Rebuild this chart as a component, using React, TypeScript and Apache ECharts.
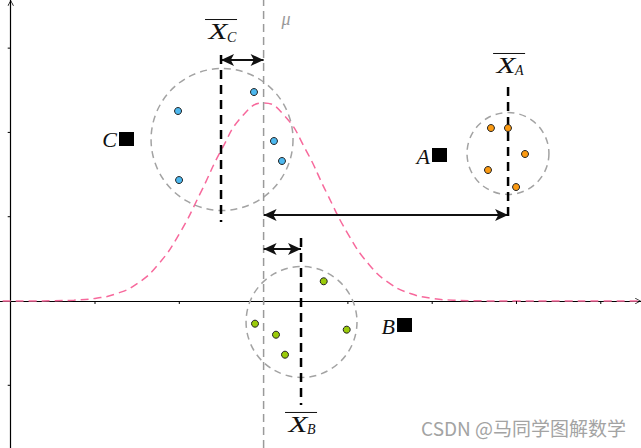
import React, { useEffect, useRef } from 'react';
import * as echarts from 'echarts';

// axis extents (data units)
const xRange = [-0.127, 7.477];
const yRange = [-1.744, 3.571];
const xTicks = [1, 2, 3, 4, 5, 6, 7];
const yTicks = [-1, 1, 2, 3];

// cluster sample points
const pointsA = [[5.697, 2.052], [5.899, 2.052], [6.101, 1.744], [5.662, 1.554], [5.995, 1.352]];
const pointsB = [[2.898, -0.269], [3.147, -0.4], [3.254, -0.637], [3.713, 0.234], [3.986, -0.34]];
const pointsC = [[1.985, 2.254], [2.886, 2.479], [3.123, 1.898], [3.218, 1.661], [1.997, 1.435]];

// cluster circles: cx, cy, r
const clusterCircles = [[2.507, 1.916, 0.842], [5.899, 1.75, 0.486], [3.45, -0.249, 0.658]];

// population mean and sample means
const mu = 3;
const muLine = [[mu, -1.744], [mu, 3.571]];
const meanLineC = [[2.495, 2.918], [2.495, 0.937]];
const meanLineA = [[5.9, 2.54], [5.9, 0.96]];
const meanLineB = [[3.444, 0.747], [3.444, -1.234]];

// double arrows: x1, x2, y
const arrows = [[2.495, 3.0, 2.859], [3.0, 5.9, 1.02], [3.0, 3.444, 0.617]];

// normal curve
const curveX = [-0.25, 0, 0.25, 0.5, 0.75, 1, 1.25, 1.5, 1.75, 2, 2.25, 2.5, 2.75, 3, 3.25, 3.5, 3.75, 4, 4.25, 4.5, 4.75, 5, 5.25, 5.5, 6, 6.5, 7, 7.6];
const curveY = [0, 0, 0, 0.003, 0.01, 0.031, 0.086, 0.206, 0.434, 0.797, 1.279, 1.794, 2.196, 2.35, 2.196, 1.794, 1.279, 0.797, 0.434, 0.206, 0.086, 0.031, 0.01, 0.003, 0, 0, 0, 0];

// labels
const meanLabels = [[2.507, 3.203, 'C'], [5.924, 2.8, 'A'], [3.456, -1.459, 'B']];
const groupLabels = [[1.273, 1.922, 'C'], [4.986, 1.732, 'A'], [4.571, -0.285, 'B']];
const muLabel = [[3.266, 3.345, 'μ']];

const SERIF = '"Liberation Serif", "DejaVu Serif", serif';

export default function App() {
  const ref = useRef<HTMLDivElement>(null);
  useEffect(() => {
    document.body.style.margin = '0';
    const chart = echarts.init(ref.current!, null, { renderer: 'svg' });
    const arrowPath = 'path://M0,0 L5,9 L4,9.8 L0,2 L-4,9.8 L-5,9 Z';
    const axisCommon = {
      type: 'value' as const,
      axisLine: {
        onZero: true,
        lineStyle: { color: '#000', width: 1.2 },
        symbol: ['none', arrowPath],
        symbolSize: [8, 6],
        symbolOffset: [0, -3],
      },
      axisTick: { show: false },
      axisLabel: { show: false },
      splitLine: { show: false },
    };
    const dashedLine = (data: number[][], color: string, width: number, dash: number[], z: number) => ({
      type: 'line',
      data,
      symbol: 'none',
      silent: true,
      z,
      lineStyle: { color, width, type: dash },
    });
    const scatter = (data: number[][], color: string) => ({
      type: 'scatter',
      data,
      symbolSize: 7,
      z: 10,
      itemStyle: { color, borderColor: '#222', borderWidth: 1, opacity: 1 },
    });
    chart.setOption({
      animation: false,
      grid: { left: 0, right: 0, top: 0, bottom: 0 },
      xAxis: { ...axisCommon, min: xRange[0], max: xRange[1] },
      yAxis: { ...axisCommon, min: yRange[0], max: yRange[1] },
      series: [
        // ticks
        {
          type: 'custom',
          data: xTicks.map((t) => [t, 0]),
          encode: { x: 0, y: 1 },
          silent: true,
          z: 3,
          renderItem: (params: any, api: any) => {
            const c = api.coord([api.value(0), 0]);
            return { type: 'line', shape: { x1: c[0], y1: c[1], x2: c[0], y2: c[1] + 3 }, style: { stroke: '#000', lineWidth: 1 } };
          },
        },
        {
          type: 'custom',
          data: yTicks.map((t) => [0, t]),
          encode: { x: 0, y: 1 },
          silent: true,
          z: 3,
          renderItem: (params: any, api: any) => {
            const c = api.coord([0, api.value(1)]);
            return { type: 'line', shape: { x1: c[0], y1: c[1], x2: c[0] - 3, y2: c[1] }, style: { stroke: '#000', lineWidth: 1 } };
          },
        },
        // normal curve
        {
          type: 'line',
          data: curveX.map((x, i) => [x, curveY[i]]),
          smooth: true,
          symbol: 'none',
          silent: true,
          z: 2,
          lineStyle: { color: '#f7699c', width: 1.5, type: [8, 5] },
        },
        // mu line and mean lines
        dashedLine(muLine, '#9a9a9a', 1.5, [8, 5], 4),
        dashedLine(meanLineC, '#000', 2.5, [9, 6], 5),
        dashedLine(meanLineA, '#000', 2.5, [9, 6], 5),
        dashedLine(meanLineB, '#000', 2.5, [9, 6], 5),
        // cluster circles
        {
          type: 'custom',
          data: clusterCircles,
          encode: { x: 0, y: 1 },
          silent: true,
          z: 4,
          renderItem: (params: any, api: any) => {
            const c = api.coord([api.value(0), api.value(1)]);
            const r = api.size([api.value(2), 0])[0];
            return {
              type: 'circle',
              shape: { cx: c[0], cy: c[1], r },
              style: { fill: 'none', stroke: '#a3a3a3', lineWidth: 1.5, lineDash: [7, 5] },
            };
          },
        },
        // arrows
        {
          type: 'line',
          data: [],
          silent: true,
          z: 6,
          markLine: {
            silent: true,
            symbol: ['arrow', 'arrow'],
            symbolSize: [9, 13],
            label: { show: false },
            lineStyle: { color: '#111', width: 2, type: 'solid' },
            data: arrows.map((a) => [{ coord: [a[0], a[2]] }, { coord: [a[1], a[2]] }]),
          },
        },
        scatter(pointsC, '#4db8ef'),
        scatter(pointsA, '#fb9a12'),
        scatter(pointsB, '#9acb0a'),
        // mean labels  X̄_k
        {
          type: 'custom',
          data: meanLabels.map((d) => [d[0], d[1]]),
          encode: { x: 0, y: 1 },
          silent: true,
          z: 8,
          renderItem: (params: any, api: any) => {
            const c = api.coord([api.value(0), api.value(1)]);
            const sub = meanLabels[params.dataIndex][2] as string;
            return {
              type: 'group',
              x: c[0],
              y: c[1],
              children: [
                { type: 'text', x: -4, y: 0, scaleX: 1.35, style: { text: 'X', fontSize: 23, fontFamily: SERIF, fontStyle: 'italic', fill: '#111', align: 'center', verticalAlign: 'middle' } },
                { type: 'text', x: 5, y: 6, style: { text: sub, fontSize: 14, fontFamily: SERIF, fontStyle: 'italic', fill: '#111', align: 'left', verticalAlign: 'middle' } },
                { type: 'line', shape: { x1: -17, y1: -11.5, x2: 15, y2: -11.5 }, style: { stroke: '#111', lineWidth: 1 } },
              ],
            };
          },
        },
        // group labels  C■ etc.
        {
          type: 'custom',
          data: groupLabels.map((d) => [d[0], d[1]]),
          encode: { x: 0, y: 1 },
          silent: true,
          z: 8,
          renderItem: (params: any, api: any) => {
            const c = api.coord([api.value(0), api.value(1)]);
            const name = groupLabels[params.dataIndex][2] as string;
            return {
              type: 'group',
              x: c[0],
              y: c[1],
              children: [
                { type: 'text', x: -1, y: 1, style: { text: name, fontSize: 22, fontFamily: SERIF, fontStyle: 'italic', fill: '#111', align: 'right', verticalAlign: 'middle' } },
                { type: 'rect', shape: { x: 1, y: -7, width: 15, height: 14 }, style: { fill: '#000' } },
              ],
            };
          },
        },
        // mu label
        {
          type: 'custom',
          data: muLabel.map((d) => [d[0], d[1]]),
          encode: { x: 0, y: 1 },
          silent: true,
          z: 8,
          renderItem: (params: any, api: any) => {
            const c = api.coord([api.value(0), api.value(1)]);
            return {
              type: 'text',
              x: c[0],
              y: c[1],
              style: { text: muLabel[params.dataIndex][2] as string, fontSize: 18, fontFamily: SERIF, fontStyle: 'italic', fill: '#999', align: 'center', verticalAlign: 'middle' },
            };
          },
        },
      ],
      graphic: [
        {
          type: 'text',
          right: 15,
          top: 418,
          style: { text: 'CSDN @马同学图解数学', fontSize: 19, fontFamily: '"Noto Sans CJK SC", sans-serif', fill: '#a3a3a3' },
          z: 20,
        },
      ],
    });
    return () => chart.dispose();
  }, []);
  return <div ref={ref} style={{ width: 641, height: 448 }} />;
}
